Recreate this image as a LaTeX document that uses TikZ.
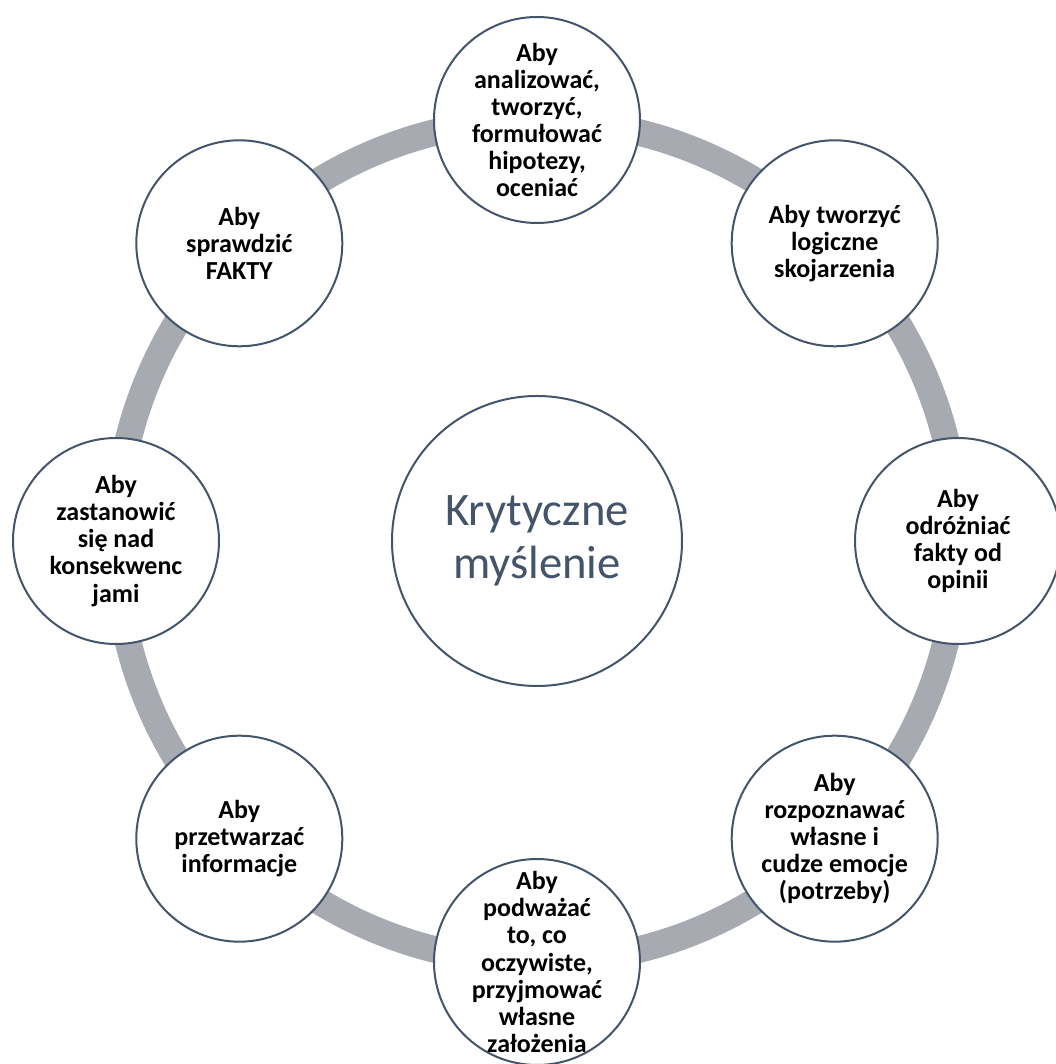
\documentclass[tikz,border=0pt]{standalone}
\usepackage{fontspec}
\setmainfont{Carlito}
\usetikzlibrary{positioning}
\definecolor{slate}{HTML}{44546A}
\definecolor{ringgray}{RGB}{167,170,176}

\begin{document}
\begin{tikzpicture}[
  x=0.75pt,y=0.75pt,
  bubble/.style={circle,draw=slate,line width=1.5pt,fill=white,
                 minimum size=154.5pt,inner sep=-12pt,align=center,
                 font=\fontsize{19.5}{20.3}\selectfont\bfseries},
  hubbox/.style={circle,draw=slate,line width=1.5pt,fill=white,
                 minimum size=217.5pt,align=center,text=slate,
                 font=\fontsize{35}{40}\selectfont},
  ring/.style={draw=ringgray,line width=20pt}
]
\useasboundingbox (0,0) rectangle (1056,1064);
\coordinate (mid) at (537,523);
\draw[ring] (mid) circle[radius=421];
\node[hubbox] (hub) at (mid) {Krytyczne\\myślenie};
\node[bubble] (analiza) at ([shift={(90:421)}]mid)
  {Aby\\analizować,\\tworzyć,\\formułować\\hipotezy,\\oceniać};
\node[bubble] (logika) at ([shift={(45:421)}]mid)
  {Aby tworzyć\\logiczne\\skojarzenia};
\node[bubble] (fakty) at ([shift={(0:421)}]mid)
  {Aby\\odróżniać\\fakty od\\opinii};
\node[bubble] (emocje) at ([shift={(-45:421)}]mid)
  {Aby\\rozpoznawać\\własne i\\cudze emocje\\(potrzeby)};
\node[bubble] (zalozenia) at ([shift={(-90:421)}]mid)
  {Aby\\podważać\\to, co\\oczywiste,\\przyjmować\\własne\\założenia};
\node[bubble] (info) at ([shift={(-135:421)}]mid)
  {Aby\\przetwarzać\\informacje};
\node[bubble] (skutki) at ([shift={(180:421)}]mid)
  {Aby\\zastanowić\\się nad\\konsekwenc\\jami};
\node[bubble] (sprawdz) at ([shift={(135:421)}]mid)
  {Aby\\sprawdzić\\FAKTY};
\end{tikzpicture}
\end{document}
